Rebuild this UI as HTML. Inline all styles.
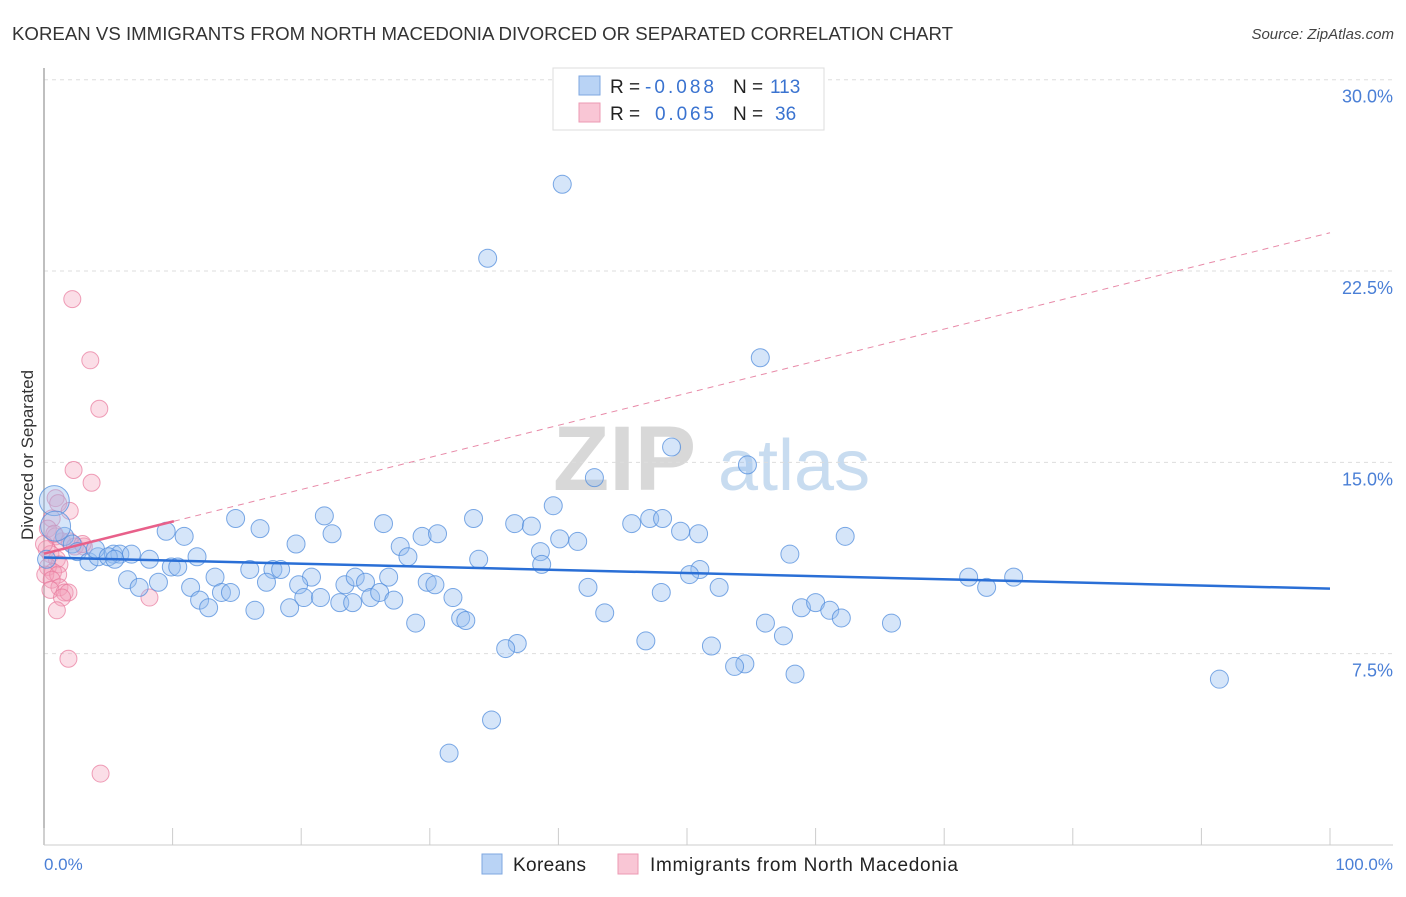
<!DOCTYPE html>
<html><head><meta charset="utf-8"><style>
body{margin:0;background:#fff;font-family:"Liberation Sans",sans-serif;}
svg text{font-family:"Liberation Sans",sans-serif;}
</style></head><body>
<svg id="chart" width="1406" height="892" viewBox="0 0 1406 892" xmlns="http://www.w3.org/2000/svg">
<text x="12" y="40" font-size="18" fill="#333" textLength="941" lengthAdjust="spacingAndGlyphs">KOREAN VS IMMIGRANTS FROM NORTH MACEDONIA DIVORCED OR SEPARATED CORRELATION CHART</text>
<text x="1394" y="39" font-size="15" fill="#444" text-anchor="end" font-style="italic">Source: ZipAtlas.com</text>
<g>
<text x="553" y="490" font-size="92" fill="#d8d8d8" font-family="Liberation Serif" font-weight="bold">ZIP</text>
<text x="718" y="490" font-size="72" fill="#c8dcf0">atlas</text>
</g>
<g id="grid"></g>
<g id="axes"></g>
<g id="pinkPts"></g>
<g id="bluePts"></g>
<g id="trends"></g>
<text transform="translate(33,455) rotate(-90)" font-size="17" fill="#333" text-anchor="middle">Divorced or Separated</text>
<text x="44" y="870" font-size="17" fill="#4a7fd6">0.0%</text>
<text x="1393" y="870" font-size="17" fill="#4a7fd6" text-anchor="end">100.0%</text>
<g>
<rect x="553" y="68" width="271" height="62" fill="#fff" stroke="#ddd"/>
<rect x="579" y="76" width="21" height="19" fill="#b9d3f5" stroke="#7ea7e0"/>
<rect x="579" y="103" width="21" height="19" fill="#f9c6d5" stroke="#ec9ab3"/>
<text x="610" y="93" font-size="19" fill="#222">R =</text>
<text x="645" y="93" font-size="19" fill="#3a73d0" textLength="69">-0.088</text>
<text x="733" y="93" font-size="19" fill="#222">N =</text>
<text x="770" y="93" font-size="19" fill="#3a73d0">113</text>
<text x="610" y="120" font-size="19" fill="#222">R =</text>
<text x="655" y="120" font-size="19" fill="#3a73d0" textLength="59">0.065</text>
<text x="733" y="120" font-size="19" fill="#222">N =</text>
<text x="775" y="120" font-size="19" fill="#3a73d0">36</text>
</g>
<g>
<rect x="482" y="854" width="20" height="20" fill="#b9d3f5" stroke="#7ea7e0"/>
<text x="513" y="871" font-size="19" fill="#222" textLength="73">Koreans</text>
<rect x="618" y="854" width="20" height="20" fill="#f9c6d5" stroke="#ec9ab3"/>
<text x="650" y="871" font-size="19" fill="#222" textLength="308">Immigrants from North Macedonia</text>
</g>
</svg>
<script>
const yTicks=[7.5,15,22.5,30];
const yTickLabels=["7.5%","15.0%","22.5%","30.0%"];
const koreanX=[40.3,34.5,55.7,48.8,54.7,42.8,39.6,14.9,21.8,33.4,16.8,26.4,36.6,37.9,45.7,47.1,48.1,49.5,50.9,62.3,9.5,10.9,22.4,29.4,30.6,40.1,41.5,19.6,27.7,38.6,58.0,1.6,2.2,2.6,3.5,4.2,5.4,5.9,6.8,8.2,9.9,10.4,11.9,16.0,17.8,18.4,20.8,28.3,33.8,38.7,51.0,50.2,71.9,75.4,73.3,6.5,7.4,8.9,11.4,13.3,13.8,14.5,17.3,19.8,20.2,21.5,23.4,24.2,25.0,25.4,26.1,26.8,27.2,29.8,30.4,31.8,42.3,48.0,52.5,58.9,60.0,61.1,62.0,12.1,12.8,16.4,19.1,23.0,24.0,28.9,32.4,32.8,43.6,56.1,57.5,65.9,36.8,35.9,46.8,51.9,54.5,53.7,58.4,91.4,34.8,31.5,0.8,0.9,4.0,5.0,5.5,0.2];
const koreanY=[25.9,23.0,19.1,15.6,14.9,14.4,13.3,12.8,12.9,12.8,12.4,12.6,12.6,12.5,12.6,12.8,12.8,12.3,12.2,12.1,12.3,12.1,12.2,12.1,12.2,12.0,11.9,11.8,11.7,11.5,11.4,12.1,11.8,11.5,11.1,11.3,11.4,11.4,11.4,11.2,10.9,10.9,11.3,10.8,10.8,10.8,10.5,11.3,11.2,11.0,10.8,10.6,10.5,10.5,10.1,10.4,10.1,10.3,10.1,10.5,9.9,9.9,10.3,10.2,9.7,9.7,10.2,10.5,10.3,9.7,9.9,10.5,9.6,10.3,10.2,9.7,10.1,9.9,10.1,9.3,9.5,9.2,8.9,9.6,9.3,9.2,9.3,9.5,9.5,8.7,8.9,8.8,9.1,8.7,8.2,8.7,7.9,7.7,8.0,7.8,7.1,7.0,6.7,6.5,4.9,3.6,13.5,12.5,11.6,11.3,11.2,11.2];
const macX=[2.2,3.6,4.3,2.3,3.7,0.9,1.1,2.0,0.6,0.3,0.9,1.4,2.0,2.4,3.1,0.2,0.5,1.0,1.2,0.3,0.7,0.1,1.1,0.6,1.2,0.5,1.6,1.9,1.4,8.2,1.0,1.9,4.4,3.0,0,0.8];
const macY=[21.4,19.0,17.1,14.7,14.2,13.6,13.4,13.1,12.8,12.4,12.1,11.9,11.9,11.7,11.7,11.6,11.4,11.2,11.0,10.9,10.7,10.6,10.6,10.4,10.1,10.0,9.9,9.9,9.7,9.7,9.2,7.3,2.8,11.8,11.8,12.2];
const koreanTrend=[11.27,10.05];
const macTrend=[11.42,24.0];
const macSolidEnd=10.1;

const NS="http://www.w3.org/2000/svg";
const xs=v=>44+v*12.86;
const ys=v=>845-v*25.51;
function mk(tag,attrs,parent){const e=document.createElementNS(NS,tag);for(const k in attrs)e.setAttribute(k,attrs[k]);parent.appendChild(e);return e;}
const grid=document.getElementById('grid'),axes=document.getElementById('axes');
yTicks.forEach((t,i)=>{
  const l=mk('line',{x1:44,x2:1393,y1:ys(t),y2:ys(t),stroke:'#ddd','stroke-dasharray':'4,4'},grid);
  
  
  const tx=mk('text',{x:1393,y:ys(t)+23,'font-size':18,fill:'#4a7fd6','text-anchor':'end'},grid);
  tx.textContent=yTickLabels[i];
  
  
});
const ya=mk('line',{x1:44,x2:44,y1:68,y2:845,stroke:'#aaa','stroke-width':1.5},axes);


const xa=mk('line',{x1:44,x2:1393,y1:845,y2:845,stroke:'#ccc'},axes);


for(let i=0;i<=10;i++){
  const t=mk('line',{x1:xs(i*10),x2:xs(i*10),y1:828,y2:845,stroke:'#ccc'},axes);
  
  
}
const pp=document.getElementById('pinkPts');
macX.forEach((x,i)=>{
  const c=mk('circle',{cx:xs(x),cy:ys(macY[i]),r:8.5,fill:'rgba(244,160,185,0.35)',stroke:'rgba(232,120,155,0.7)','stroke-width':1},pp);
  
  
});
const bp=document.getElementById('bluePts');
koreanX.forEach((x,i)=>{
  const big=(i>=106&&i<=107);
  const c=mk('circle',{cx:xs(x),cy:ys(koreanY[i]),r:big?15:9,fill:'rgba(150,190,240,0.4)',stroke:'rgba(80,140,220,0.75)','stroke-width':1},bp);
  
  
});
const tr=document.getElementById('trends');
const bl=mk('line',{x1:xs(0),y1:ys(koreanTrend[0]),x2:xs(100),y2:ys(koreanTrend[1]),stroke:'#2a6fd6','stroke-width':2.5},tr);


const mAt=v=>macTrend[0]+(macTrend[1]-macTrend[0])*v/100;
const pd=mk('line',{x1:xs(macSolidEnd),y1:ys(mAt(macSolidEnd)),x2:xs(100),y2:ys(macTrend[1]),stroke:'#e88aa8','stroke-width':1,'stroke-dasharray':'6,5'},tr);


const ps=mk('line',{x1:xs(0),y1:ys(macTrend[0]),x2:xs(macSolidEnd),y2:ys(mAt(macSolidEnd)),stroke:'#e8608a','stroke-width':2.5},tr);


</script>
</body></html>
